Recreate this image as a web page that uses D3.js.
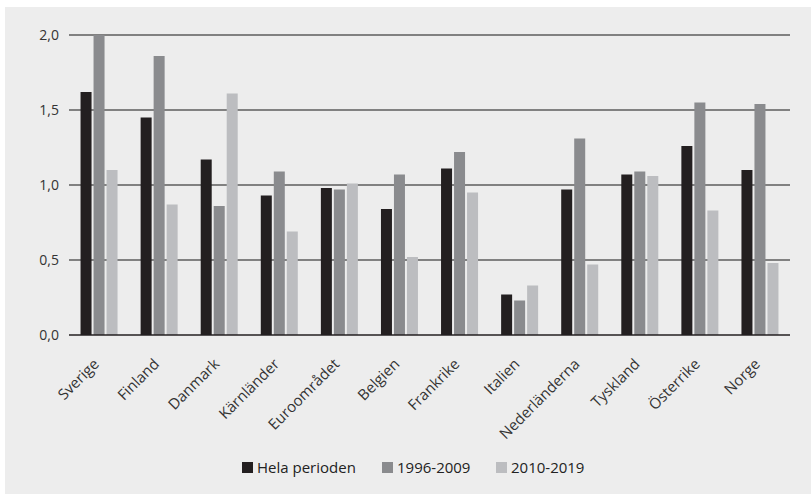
<!DOCTYPE html>
<html>
<head>
<meta charset="utf-8">
<script src="https://cdn.jsdelivr.net/npm/d3@7"></script>
<style>
  html, body { margin: 0; padding: 0; background: #fff; }
  svg { display: block; font-family: "Open Sans", sans-serif; }
</style>
</head>
<body>
<svg id="chart" width="811" height="494"></svg>
<script>
const categories = ['Sverige', 'Finland', 'Danmark', 'Kärnländer', 'Euroområdet', 'Belgien',
  'Frankrike', 'Italien', 'Nederländerna', 'Tyskland', 'Österrike', 'Norge'];
const seriesNames = ['Hela perioden', '1996-2009', '2010-2019'];
const helaPerioden = [1.62, 1.45, 1.17, 0.93, 0.98, 0.84, 1.11, 0.27, 0.97, 1.07, 1.26, 1.10];
const period1996 = [2.00, 1.86, 0.86, 1.09, 0.97, 1.07, 1.22, 0.23, 1.31, 1.09, 1.55, 1.54];
const period2010 = [1.10, 0.87, 1.61, 0.69, 1.01, 0.52, 0.95, 0.33, 0.47, 1.06, 0.83, 0.48];
const yTicks = [0, 0.5, 1.0, 1.5, 2.0];
const colors = ['#231f20', '#8a8b8e', '#bcbdc0'];

const values = [helaPerioden, period1996, period2010];
const data = categories.map((c, i) => ({ name: c, vals: values.map(s => s[i]) }));

const svg = d3.select('#chart');
const margin = { top: 35, right: 21, bottom: 159, left: 69 };
const width = 811 - margin.left - margin.right;
const height = 494 - margin.top - margin.bottom;

// panel background
svg.append('rect')
  .attr('x', 5).attr('y', 7)
  .attr('width', 806).attr('height', 487)
  .attr('fill', '#ededed');

const g = svg.append('g').attr('transform', `translate(${margin.left},${margin.top})`);

const x = d3.scaleBand().domain(categories).range([0, width]);
const groupW = 37;
const xInner = d3.scaleBand().domain(seriesNames).range([0, groupW]).paddingInner(2 / 13);
const y = d3.scaleLinear().domain([0, 2]).range([height, 0]);

// gridlines
g.append('g')
  .selectAll('line')
  .data(yTicks.filter(t => t > 0))
  .enter().append('line')
  .attr('x1', 0).attr('x2', width)
  .attr('y1', d => y(d)).attr('y2', d => y(d))
  .attr('stroke', '#5c5c5c')
  .attr('stroke-width', 1.5);

// bars
g.append('g')
  .selectAll('g')
  .data(data)
  .enter().append('g')
  .attr('transform', d => `translate(${x(d.name) + (x.bandwidth() - groupW) / 2},0)`)
  .selectAll('rect')
  .data(d => d.vals.map((v, i) => ({ key: seriesNames[i], value: v, i })))
  .enter().append('rect')
  .attr('x', d => xInner(d.key))
  .attr('y', d => y(d.value))
  .attr('width', xInner.bandwidth())
  .attr('height', d => height - y(d.value))
  .attr('fill', d => colors[d.i]);

// zero line
g.append('line')
  .attr('x1', 0).attr('x2', width)
  .attr('y1', y(0)).attr('y2', y(0))
  .attr('stroke', '#231f20')
  .attr('stroke-width', 1.5);

// y axis labels
g.append('g')
  .selectAll('text')
  .data(yTicks)
  .enter().append('text')
  .attr('x', -10)
  .attr('y', d => y(d))
  .attr('dy', '0.35em')
  .attr('text-anchor', 'end')
  .attr('font-size', 14)
  .attr('fill', '#333')
  .text(d => d3.format('.1f')(d).replace('.', ','));

// x axis labels, slanted
g.append('g')
  .selectAll('text')
  .data(categories)
  .enter().append('text')
  .attr('transform', d => `translate(${x(d) + x.bandwidth() / 2 + 1},${height + 30}) rotate(-45)`)
  .attr('text-anchor', 'end')
  .attr('font-size', 15)
  .attr('fill', '#333')
  .text(d => d);

// legend
const legendX = [242, 382, 496];
const legend = svg.append('g')
  .selectAll('g')
  .data(seriesNames)
  .enter().append('g')
  .attr('transform', (d, i) => `translate(${legendX[i]},462)`);

legend.append('rect')
  .attr('width', 11).attr('height', 11)
  .attr('fill', (d, i) => colors[i]);

legend.append('text')
  .attr('x', 15).attr('y', 11)
  .attr('font-size', 15)
  .attr('fill', '#222')
  .text(d => d);
</script>
</body>
</html>
